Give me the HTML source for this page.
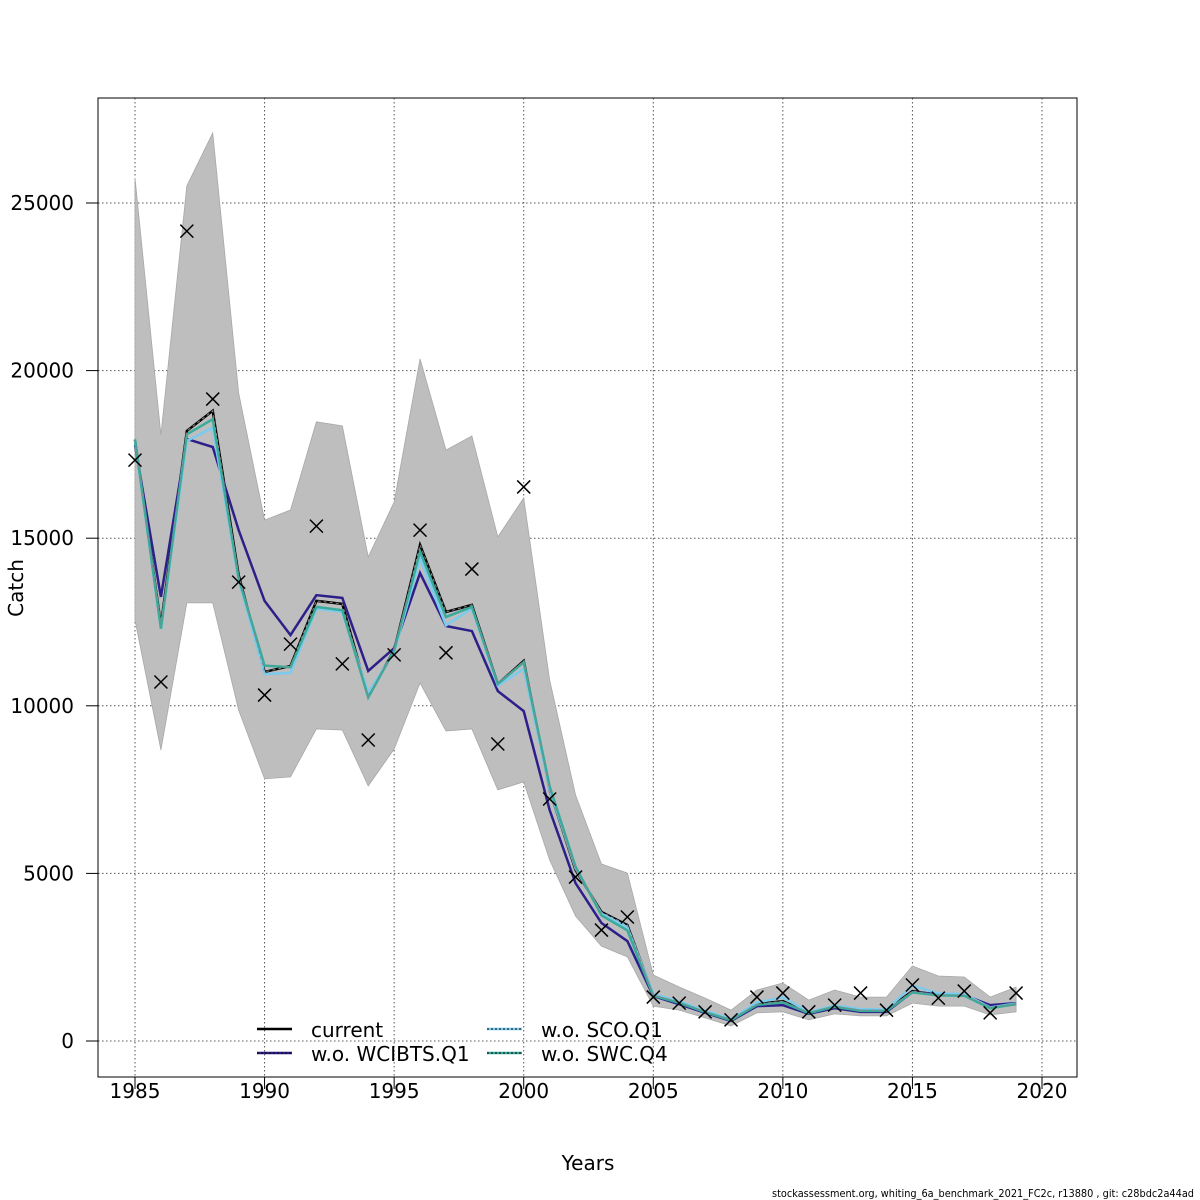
<!DOCTYPE html>
<html><head><meta charset="utf-8"><style>
html,body{margin:0;padding:0;background:#fff;}
svg{display:block;font-family:"DejaVu Sans","Liberation Sans",sans-serif;}
</style></head><body>
<svg id="chart" width="1200" height="1200" viewBox="0 0 1200 1200" xmlns="http://www.w3.org/2000/svg">
<rect x="0" y="0" width="1200" height="1200" fill="#fff"/>
<g id="grid"></g>
<g id="band"></g>
<g id="lines"></g>
<g id="obs"></g>
<rect x="98" y="98" width="979" height="979" fill="none" stroke="#000" stroke-width="1"/>
<g id="axes"></g>
<text x="0" y="0" transform="translate(23,588) rotate(-90)" text-anchor="middle" font-size="20">Catch</text>
<text x="588" y="1170" text-anchor="middle" font-size="20">Years</text>
<g>
  <g>
    <line x1="257" y1="1029" x2="292" y2="1029" stroke="#000" stroke-width="2.5"/>
    <text x="311" y="1037" font-size="20">current</text>
  </g>
  <g>
    <line x1="257" y1="1053" x2="292" y2="1053" stroke="#2c1f8a" stroke-width="2.5"/>
    <line x1="257" y1="1053" x2="292" y2="1053" stroke="#000" stroke-width="1" stroke-dasharray="2,2"/>
    <text x="311" y="1061" font-size="20">w.o. WCIBTS.Q1</text>
  </g>
  <g>
    <line x1="487" y1="1029" x2="522" y2="1029" stroke="#7ccbee" stroke-width="2.5"/>
    <line x1="487" y1="1029" x2="522" y2="1029" stroke="#000" stroke-width="1" stroke-dasharray="2,2"/>
    <text x="541" y="1037" font-size="20">w.o. SCO.Q1</text>
  </g>
  <g>
    <line x1="487" y1="1053" x2="522" y2="1053" stroke="#3aab9a" stroke-width="2.5"/>
    <line x1="487" y1="1053" x2="522" y2="1053" stroke="#000" stroke-width="1" stroke-dasharray="2,2"/>
    <text x="541" y="1061" font-size="20">w.o. SWC.Q4</text>
  </g>
</g>
<text x="1194" y="1197" text-anchor="end" font-size="10.5" font-family="DejaVu Sans, sans-serif" textLength="422" lengthAdjust="spacingAndGlyphs">stockassessment.org, whiting_6a_benchmark_2021_FC2c, r13880 , git: c28bdc2a44ad</text>
</svg>
<script>
const years = [1985,1986,1987,1988,1989,1990,1991,1992,1993,1994,1995,1996,1997,1998,1999,2000,2001,2002,2003,2004,2005,2006,2007,2008,2009,2010,2011,2012,2013,2014,2015,2016,2017,2018,2019];
const observed = [17330,10710,24160,19150,13690,10320,11840,15360,11250,8980,11520,15240,11580,14080,8860,16530,7220,4890,3310,3700,1310,1130,870,630,1310,1430,870,1070,1430,920,1670,1280,1490,840,1430];
const current = [17930,12410,18200,18800,13900,11010,11190,13130,13040,10290,11660,14800,12800,13010,10650,11340,7490,5100,3850,3460,1370,1160,870,630,1100,1190,840,1040,920,920,1490,1370,1370,1010,1100];
const woWCIBTS = [17780,13250,17960,17720,15240,13130,12110,13300,13220,11040,11720,13960,12380,12230,10440,9840,6890,4710,3520,2980,1340,1100,840,600,1040,1070,810,980,870,870,1460,1400,1370,1070,1130];
const woSCO = [17900,12300,17900,18300,13750,10950,10980,12900,12800,10400,11600,14400,12400,12900,10600,11100,7500,5150,3800,3400,1400,1180,900,650,1150,1300,860,1060,950,940,1650,1420,1400,1000,1120];
const woSWC = [17950,12300,18100,18550,13800,11200,11150,12950,12850,10250,11650,14600,12650,12950,10650,11300,7600,5200,3750,3300,1350,1140,860,620,1080,1150,830,1020,900,900,1450,1360,1350,980,1100];
const upper = [25750,18080,25510,27090,19330,15540,15840,18470,18350,14440,16080,20350,17630,18050,15040,16200,10770,7340,5280,5010,1970,1610,1280,920,1520,1730,1220,1520,1310,1310,2240,1940,1910,1310,1610];
const lower = [12560,8680,13070,13070,9870,7820,7880,9310,9280,7610,8710,10680,9250,9310,7490,7730,5400,3730,2830,2510,1040,920,690,450,840,870,630,810,750,750,1130,1040,1040,780,870];
const xTicks = [1985,1990,1995,2000,2005,2010,2015,2020];
const yTicks = [0,5000,10000,15000,20000,25000];

const NS='http://www.w3.org/2000/svg';
function X(yr){return 135 + (yr-1985)*(1042-135)/35;}
function Y(v){return 1041 - v*(1041-203)/25000;}
function mk(tag,attrs,parent){const e=document.createElementNS(NS,tag);for(const k in attrs)e.setAttribute(k,attrs[k]);parent.appendChild(e);return e;}

const grid=document.getElementById('grid'), axes=document.getElementById('axes');
xTicks.forEach(t=>{
  const g=mk('line',{x1:X(t),x2:X(t),y1:98,y2:1077,stroke:'#555','stroke-width':1,'stroke-dasharray':'1.5,2.5'},grid);
  
  
  const tk=mk('line',{x1:X(t),x2:X(t),y1:1077,y2:1089,stroke:'#000'},axes);
  
  
  const lb=mk('text',{x:X(t),y:1098,'text-anchor':'middle','font-size':20},axes);
  lb.textContent=t;
  
  
});
yTicks.forEach(t=>{
  const g=mk('line',{x1:98,x2:1077,y1:Y(t),y2:Y(t),stroke:'#555','stroke-width':1,'stroke-dasharray':'1.5,2.5'},grid);
  
  
  const tk=mk('line',{x1:86,x2:98,y1:Y(t),y2:Y(t),stroke:'#000'},axes);
  
  
  const lb=mk('text',{x:74,y:Y(t)+7,'text-anchor':'end','font-size':20},axes);
  lb.textContent=t;
  
  
});

const band=document.getElementById('band');
let d=years.map((yr,i)=>(i?'L':'M')+X(yr)+','+Y(upper[i])).join(' ');
for(let i=years.length-1;i>=0;i--) d+=' L'+X(years[i])+','+Y(lower[i]);
const bp=mk('path',{d:d+' Z',fill:'#bebebe',stroke:'#a8a8a8','stroke-width':0.8},band);



const lines=document.getElementById('lines');
function pts(arr){return years.map((yr,i)=>X(yr)+','+Y(arr[i])).join(' ');}
const series=[
  [current,'#000',2.5,null,'line-current'],
  [woWCIBTS,'#2c1f8a',2.5,null,'line-wo-wcibts-q1'],
  [woSCO,'#7ccbee',2.5,null,'line-wo-sco-q1'],
  [woSWC,'#3aab9a',2.5,null,'line-wo-swc-q4'],
  [current,'#888',1,'3,3','line-current-dash']
];
series.forEach(s=>{
  const a={points:pts(s[0]),fill:'none',stroke:s[1],'stroke-width':s[2],'stroke-linejoin':'miter'};
  if(s[3])a['stroke-dasharray']=s[3];
  const p=mk('polyline',a,lines);
  
  
});

const obs=document.getElementById('obs');
years.forEach((yr,i)=>{
  const cx=X(yr), cy=Y(observed[i]), r=6.5;
  const p=mk('path',{d:`M${cx-r},${cy-r} L${cx+r},${cy+r} M${cx-r},${cy+r} L${cx+r},${cy-r}`,stroke:'#000','stroke-width':1.5,fill:'none'},obs);
  
  
});
</script>
</body></html>
